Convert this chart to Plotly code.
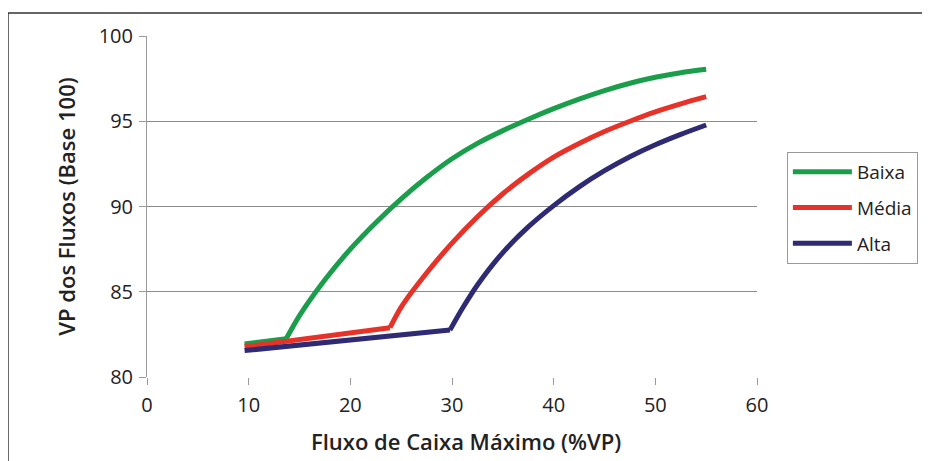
import plotly.graph_objects as go

# Baixa (green): straight part up to the kink, then the rising curve
baixa_x = [9.6, 13.7, 15.0, 17.5, 20.0, 22.5, 25.0, 27.5, 30.0, 32.5, 35.0, 37.5, 40.0,
           42.5, 45.0, 47.5, 50.0, 52.5, 55.0]
baixa_y = [81.93, 82.25, 83.6, 85.7, 87.5, 89.05, 90.45, 91.7, 92.8, 93.7, 94.45, 95.12, 95.74,
           96.3, 96.8, 97.23, 97.58, 97.85, 98.05]

# Média (red)
media_x = [9.6, 23.9, 25.0, 27.5, 30.0, 32.5, 35.0, 37.5, 40.0, 42.5, 45.0, 47.5, 50.0, 52.5, 55.0]
media_y = [81.78, 82.89, 84.1, 86.1, 87.85, 89.4, 90.75, 91.9, 92.9, 93.7, 94.4, 95.0, 95.55, 96.02, 96.44]

# Alta (navy)
alta_x = [9.6, 29.8, 31.0, 32.5, 35.0, 37.5, 40.0, 42.5, 45.0, 47.5, 50.0, 52.5, 55.0]
alta_y = [81.55, 82.75, 84.0, 85.4, 87.3, 88.8, 90.05, 91.15, 92.1, 92.92, 93.62, 94.23, 94.78]

series_names = ["Baixa", "Média", "Alta"]
series_colors = ["#1b9e4b", "#e63228", "#2f2a74"]

x_ticks = [0, 10, 20, 30, 40, 50, 60]
y_ticks = [80, 85, 90, 95, 100]
x_title = "Fluxo de Caixa Máximo (%VP)"
y_title = "VP dos Fluxos (Base 100)"

FONT = "Open Sans"

fig = go.Figure()
series = [(baixa_x, baixa_y), (media_x, media_y), (alta_x, alta_y)]
for i, (xs, ys) in enumerate(series):
    k = 1  # index of the kink point
    fig.add_trace(go.Scatter(
        x=xs[:k + 1], y=ys[:k + 1], mode="lines", name=series_names[i],
        legendgroup=series_names[i], showlegend=False, hoverinfo="skip",
        line=dict(color=series_colors[i], width=5),
    ))
    fig.add_trace(go.Scatter(
        x=xs[k:], y=ys[k:], mode="lines", name=series_names[i],
        legendgroup=series_names[i],
        line=dict(color=series_colors[i], width=5, shape="spline", smoothing=0.8),
    ))

fig.update_layout(
    width=922, height=453,
    margin=dict(l=139, r=173, t=28, b=84, pad=0),
    paper_bgcolor="white", plot_bgcolor="white",
    font=dict(family=FONT, size=20, color="#222"),
    showlegend=True,
    legend=dict(
        x=1.049, y=0.66, xanchor="left", yanchor="top",
        bordercolor="#9a9a9a", borderwidth=1,
        font=dict(family=FONT, size=19, color="#222"),
        traceorder="grouped", tracegroupgap=8,
        itemwidth=59,
    ),
    xaxis=dict(
        range=[0, 60], tickvals=x_ticks, showgrid=False, zeroline=False,
        showline=False, ticks="outside", ticklen=7, tickcolor="#9a9a9a",
        tickfont=dict(size=20), ticklabelstandoff=3,
    ),
    yaxis=dict(
        range=[80, 100], tickvals=y_ticks, showgrid=True, gridcolor="#8c8c8c",
        gridwidth=1, zeroline=False, showline=True, linecolor="#9a9a9a",
        linewidth=1, ticks="outside", ticklen=7, tickcolor="#9a9a9a",
        tickfont=dict(size=20), ticklabelstandoff=2,
        title=dict(text=y_title,
                   font=dict(family=FONT, size=22, weight=600), standoff=16),
    ),
    annotations=[dict(text=x_title, xref="paper", yref="paper",
                      x=0.523, y=-0.188, xanchor="center", yanchor="middle",
                      showarrow=False,
                      font=dict(family=FONT, size=22, weight=600, color="#222"))],
    shapes=[dict(type="rect", xref="paper", yref="paper",
                 x0=-0.2279, x1=1.32, y0=-0.32, y1=1.0675,
                 line=dict(color="#333333", width=1.5), layer="below")],
)

fig.write_html("out.html")
